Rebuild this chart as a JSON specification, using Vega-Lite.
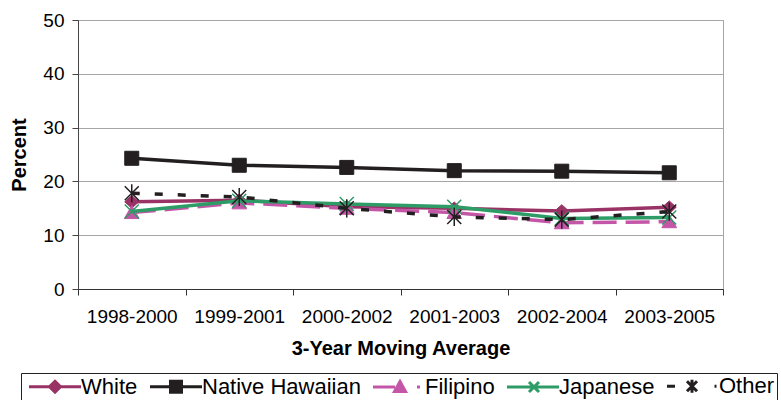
{
  "$schema": "https://vega.github.io/schema/vega-lite/v6.json",
  "width": 645,
  "height": 269,
  "autosize": {"type": "none"},
  "padding": {"left": 78, "top": 20, "right": 58, "bottom": 111},
  "background": "white",
  "config": {"font": "Liberation Sans", "view": {"stroke": "#a6a6a6", "strokeWidth": 1}},
  "data": {"values": [
    {"series": "White", "period": "1998-2000", "value": 16.2},
    {"series": "White", "period": "1999-2001", "value": 16.5},
    {"series": "White", "period": "2000-2002", "value": 15.3},
    {"series": "White", "period": "2001-2003", "value": 15.0},
    {"series": "White", "period": "2002-2004", "value": 14.5},
    {"series": "White", "period": "2003-2005", "value": 15.2},
    {"series": "Native Hawaiian", "period": "1998-2000", "value": 24.3},
    {"series": "Native Hawaiian", "period": "1999-2001", "value": 23.0},
    {"series": "Native Hawaiian", "period": "2000-2002", "value": 22.6},
    {"series": "Native Hawaiian", "period": "2001-2003", "value": 22.0},
    {"series": "Native Hawaiian", "period": "2002-2004", "value": 21.9},
    {"series": "Native Hawaiian", "period": "2003-2005", "value": 21.6},
    {"series": "Filipino", "period": "1998-2000", "value": 14.2},
    {"series": "Filipino", "period": "1999-2001", "value": 16.0},
    {"series": "Filipino", "period": "2000-2002", "value": 15.0},
    {"series": "Filipino", "period": "2001-2003", "value": 14.2},
    {"series": "Filipino", "period": "2002-2004", "value": 12.3},
    {"series": "Filipino", "period": "2003-2005", "value": 12.5},
    {"series": "Japanese", "period": "1998-2000", "value": 14.4},
    {"series": "Japanese", "period": "1999-2001", "value": 16.4},
    {"series": "Japanese", "period": "2000-2002", "value": 15.8},
    {"series": "Japanese", "period": "2001-2003", "value": 15.3},
    {"series": "Japanese", "period": "2002-2004", "value": 13.1},
    {"series": "Japanese", "period": "2003-2005", "value": 13.3},
    {"series": "Other", "period": "1998-2000", "value": 17.8},
    {"series": "Other", "period": "1999-2001", "value": 17.1},
    {"series": "Other", "period": "2000-2002", "value": 15.0},
    {"series": "Other", "period": "2001-2003", "value": 13.4},
    {"series": "Other", "period": "2002-2004", "value": 12.9},
    {"series": "Other", "period": "2003-2005", "value": 14.4}
  ]},
  "encoding": {
    "x": {
      "field": "period", "type": "ordinal", "sort": null,
      "scale": {"type": "band", "paddingInner": 0, "paddingOuter": 0},
      "axis": {
        "title": "3-Year Moving Average", "labelAngle": 0, "tickBand": "extent",
        "domainColor": "#333333", "tickColor": "#333333", "labelColor": "#000000",
        "labelFontSize": 19, "titleFontSize": 20, "titleFontWeight": "bold", "titleColor": "#000000",
        "tickSize": 6, "labelPadding": 12, "titlePadding": 12, "grid": false
      }
    },
    "y": {
      "field": "value", "type": "quantitative",
      "scale": {"domain": [0, 50]},
      "axis": {
        "title": "Percent", "values": [0, 10, 20, 30, 40, 50],
        "gridColor": "#a6a6a6", "domainColor": "#444444", "tickColor": "#444444", "labelColor": "#000000",
        "labelFontSize": 19, "titleFontSize": 20, "titleFontWeight": "bold", "titleColor": "#000000",
        "tickSize": 6, "labelPadding": 8, "titlePadding": 13
      }
    }
  },
  "layer": [
    {
      "transform": [{"filter": "datum.value > 1000"}],
      "mark": {"type": "point", "filled": true, "opacity": 1, "strokeWidth": 3},
      "encoding": {
        "color": {
          "field": "series", "type": "nominal",
          "scale": {
            "domain": ["White", "Native Hawaiian", "Filipino", "Japanese", "Other"],
            "range": ["#993366", "#231f20", "#c456a8", "#2e9c66", "#231f20"]
          },
          "legend": {
            "title": null, "orient": "none", "legendX": -57, "legendY": 353,
            "direction": "horizontal", "columnPadding": 6, "padding": 2,
            "strokeColor": "#222222", "fillColor": "#ffffff",
            "labelFontSize": 22, "labelColor": "#000000", "labelOffset": 36, "labelLimit": 300,
            "symbolSize": 100, "symbolStrokeWidth": 3, "symbolOpacity": 1
          }
        },
        "stroke": {
          "field": "series", "type": "nominal",
          "scale": {
            "domain": ["White", "Native Hawaiian", "Filipino", "Japanese", "Other"],
            "range": ["#993366", "#231f20", "#c456a8", "#2e9c66", "#231f20"]
          },
          "legend": {
            "title": null, "orient": "none", "legendX": -57, "legendY": 353,
            "direction": "horizontal", "columnPadding": 6, "padding": 2,
            "strokeColor": "#222222", "fillColor": "#ffffff",
            "labelFontSize": 22, "labelColor": "#000000", "labelOffset": 36, "labelLimit": 300,
            "symbolSize": 100, "symbolStrokeWidth": 3, "symbolOpacity": 1
          }
        },
        "shape": {
          "field": "series", "type": "nominal",
          "scale": {
            "domain": ["White", "Native Hawaiian", "Filipino", "Japanese", "Other"],
            "range": [
              "M-1,0H9.4M4.2,-1.1L5.3,0L4.2,1.1L3.1,0Z",
              "M-1,0H9.4M3.1,-1.1H5.3V1.1H3.1Z",
              "M-1,0H3.4M7.8,0H8.4M4.4,-1.1L5.5,0.9H3.3Z",
              "M-1,0H9.4M3.4,-1L5.4,1M3.4,1L5.4,-1",
              "M-1,0H0.6M3,-1L5,1M3,1L5,-1M4,-1.3V1.3M8.5,0H8.9"
            ]
          },
          "legend": {
            "title": null, "orient": "none", "legendX": -57, "legendY": 353,
            "direction": "horizontal", "columnPadding": 6, "padding": 2,
            "strokeColor": "#222222", "fillColor": "#ffffff",
            "labelFontSize": 22, "labelColor": "#000000", "labelOffset": 36, "labelLimit": 300,
            "symbolSize": 100, "symbolStrokeWidth": 3, "symbolOpacity": 1
          }
        }
      }
    },
    {
      "transform": [{"filter": "datum.series == 'White'"}],
      "mark": {"type": "line", "strokeWidth": 3.5, "stroke": "#993366",
        "point": {"filled": true, "size": 196, "opacity": 1, "shape": "M0,-0.9L1,0L0,0.9L-1,0Z", "fill": "#993366", "stroke": "#993366", "strokeWidth": 1}}
    },
    {
      "transform": [{"filter": "datum.series == 'Native Hawaiian'"}],
      "mark": {"type": "line", "strokeWidth": 3.5, "stroke": "#231f20",
        "point": {"filled": true, "size": 196, "opacity": 1, "shape": "M-1,-1H1V1H-1Z", "fill": "#231f20", "stroke": "#231f20", "strokeWidth": 1}}
    },
    {
      "transform": [{"filter": "datum.series == 'Filipino'"}],
      "mark": {"type": "line", "strokeWidth": 3.5, "stroke": "#c456a8", "strokeDash": [24, 9],
        "point": {"filled": true, "size": 196, "opacity": 1, "shape": "M0,-1L1.05,0.85H-1.05Z", "fill": "#c456a8", "stroke": "#c456a8", "strokeWidth": 1}}
    },
    {
      "transform": [{"filter": "datum.series == 'Japanese'"}],
      "mark": {"type": "line", "strokeWidth": 3.5, "stroke": "#2e9c66",
        "point": {"filled": false, "size": 196, "opacity": 1, "shape": "M-1,-1L1,1M-1,1L1,-1", "stroke": "#2e9c66", "strokeWidth": 1.5}}
    },
    {
      "transform": [{"filter": "datum.series == 'Other'"}],
      "mark": {"type": "line", "strokeWidth": 3.5, "stroke": "#231f20", "strokeDash": [8, 15],
        "point": {"filled": false, "size": 196, "opacity": 1, "shape": "M-1,-1L1,1M-1,1L1,-1M0,-1.3V1.3", "stroke": "#231f20", "strokeWidth": 1.5}}
    }
  ]
}
